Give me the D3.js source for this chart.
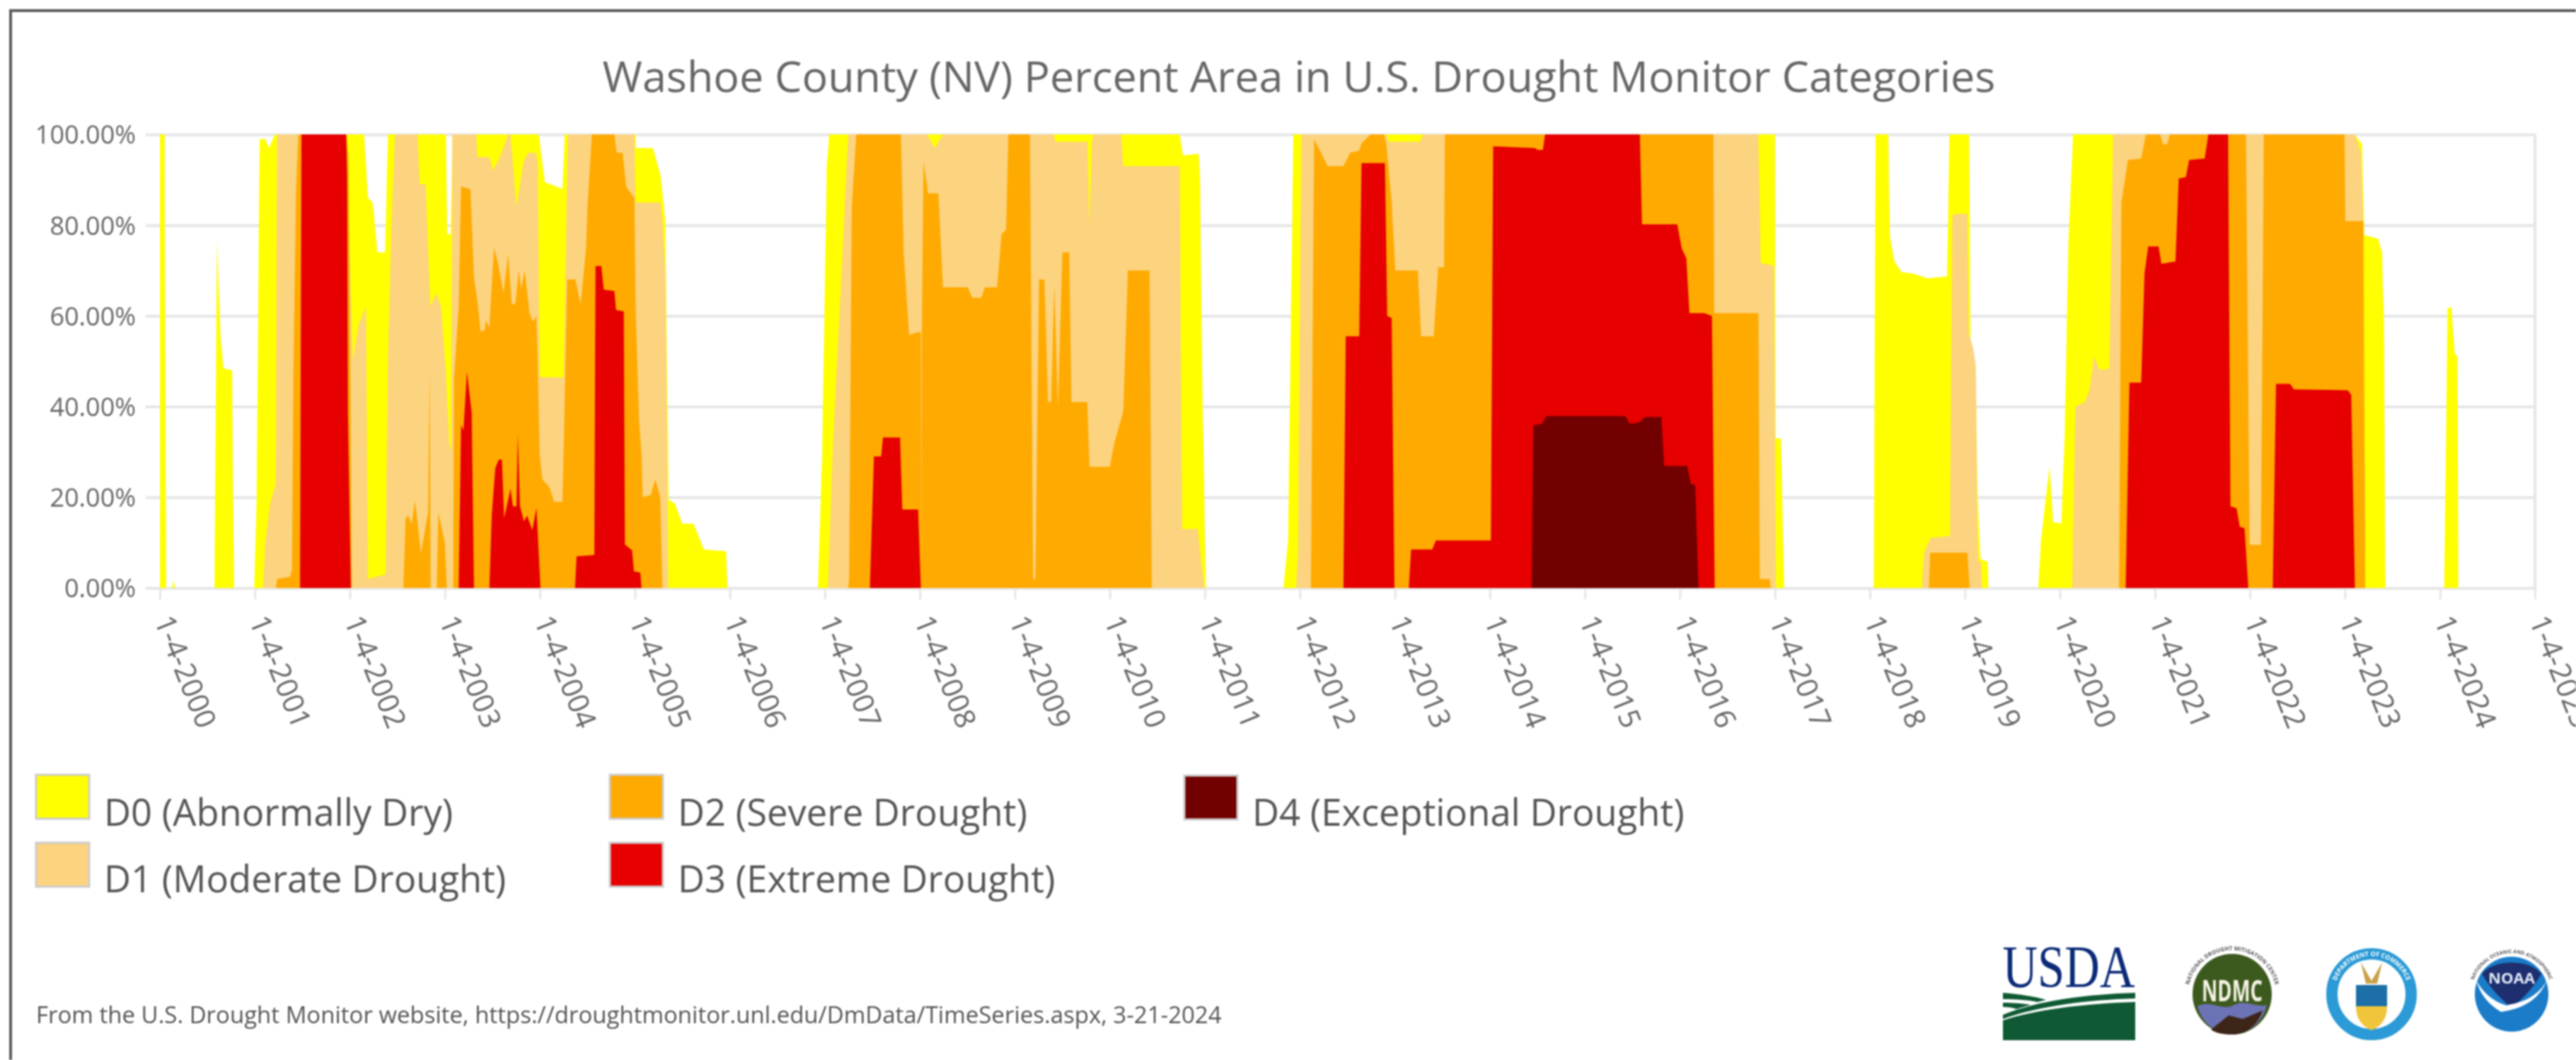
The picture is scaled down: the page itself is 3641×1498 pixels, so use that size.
<!DOCTYPE html>
<html>
<head>
<meta charset="utf-8">
<script src="https://cdnjs.cloudflare.com/ajax/libs/d3/7.8.5/d3.min.js"></script>
<style>
    html, body { margin: 0; padding: 0; background: #fff; }
    svg { display: block; filter: blur(0.8px); }
    text { font-family: "Open Sans", sans-serif; fill: #666; }
</style>
</head>
<body>
<div id="chart"></div>
<script>
// percent area, cumulative as the drought monitor draws it: [year, percent]
const d0 = [[2000,100],[2000.05,100],[2000.065,0],[2000.13,0],[2000.146,1.7],[2000.16,0],[2000.575,0],[2000.6,76.5],[2000.64,55],[2000.67,48.4],[2000.76,48],[2000.78,0],
    [2000.993,0],[2001.018,19],[2001.05,99],[2001.11,99],[2001.147,97],[2001.21,100],[2002.15,100],[2002.19,86],[2002.24,85],[2002.29,74],[2002.37,74],[2002.4,100],
    [2003.01,100],[2003.025,78],[2003.06,78],[2003.08,100],[2003.989,100],[2004.051,89.5],[2004.237,88],[2004.262,100],[2005.007,100],[2005.01,97],[2005.19,97],[2005.27,91],[2005.32,81],[2005.355,19.5],[2005.42,18.6],[2005.5,14.2],[2005.617,14.2],[2005.726,8.5],[2005.96,8.1],[2005.975,0],
    [2006.927,0],[2006.97,28.8],[2007.02,93],[2007.045,100],[2010.735,100],[2010.769,95.4],[2010.935,95.7],[2010.949,90],[2010.972,46],[2011.01,0],
    [2011.827,0],[2011.875,10.5],[2011.931,100],[2017.002,100],[2017.007,33],[2017.064,33],[2017.097,0],
    [2018.04,0],[2018.06,100],[2018.194,100],[2018.21,77.5],[2018.258,72],[2018.33,69.7],[2018.456,69.3],[2018.605,68.3],[2018.812,68.7],[2018.837,100],[2019.045,100],[2019.06,52],[2019.114,47],[2019.134,20],[2019.164,6.4],[2019.238,5.8],[2019.248,0],
    [2019.772,0],[2019.8,10.5],[2019.89,26.7],[2019.93,14.5],[2020.014,14.2],[2020.05,33.5],[2020.088,75.4],[2020.138,100],[2023.105,100],[2023.18,97.8],[2023.204,77.8],[2023.35,77],[2023.39,74],[2023.41,59],[2023.426,0],
    [2024.045,0],[2024.08,61.6],[2024.12,62],[2024.154,51.8],[2024.184,51],[2024.193,0]];

const d1 = [[2001.085,0],[2001.11,10],[2001.16,18.6],[2001.22,23],[2001.234,100],[2001.966,100],[2002.03,50],[2002.09,58],[2002.17,62],[2002.19,2],[2002.376,3],[2002.4,49],[2002.438,81],[2002.475,100],[2002.711,100],[2002.736,89],[2002.798,89],[2002.847,62],[2002.909,65],[2002.959,62],[2003.009,48],[2003.046,32],[2003.065,30],[2003.08,100],
    [2003.331,100],[2003.344,95],[2003.468,95],[2003.505,92],[2003.58,95],[2003.667,100],[2003.691,100],[2003.753,84],[2003.828,94],[2003.877,96],[2003.952,96],[2003.977,94],[2003.997,46.5],[2004.25,46.4],[2004.262,60],[2004.295,100],[2004.995,100],[2005.007,85],[2005.218,85],[2005.27,85],[2005.29,81],[2005.32,70],[2005.34,30],[2005.35,0],
    [2007.03,0],[2007.046,8],[2007.079,29],[2007.126,49],[2007.174,69],[2007.221,90],[2007.245,100],[2008.076,100],[2008.157,97],[2008.242,100],[2009.405,100],[2009.43,98.4],[2009.762,98.4],[2009.785,80],[2009.81,98.4],[2009.83,100],[2010.118,100],[2010.14,93],[2010.735,93],[2010.76,13],[2010.925,13],[2010.96,6],[2010.996,0],
    [2011.96,0],[2011.98,8],[2012.016,100],[2012.909,100],[2012.93,98.4],[2013.265,98.4],[2013.298,100],[2016.826,100],[2016.85,71.7],[2016.99,71],[2017,40],[2017.01,0],
    [2018.545,0],[2018.57,7.8],[2018.64,11],[2018.842,11.5],[2018.867,82],[2018.9,82.5],[2019.025,82.5],[2019.04,56],[2019.085,53],[2019.114,49],[2019.13,15],[2019.14,5.8],[2019.17,5.8],[2019.18,0],
    [2020.128,0],[2020.163,40],[2020.26,41],[2020.31,43.6],[2020.36,51],[2020.42,48],[2020.52,48.4],[2020.56,100],[2023.105,100],[2023.169,96],[2023.194,80],[2023.214,0]];

const d2 = [[2001.221,0],[2001.234,2],[2001.37,2.5],[2001.39,4],[2001.407,49],[2001.432,87],[2001.457,100],[2001.966,100],[2001.985,95],[2002,60],[2002.01,30],[2002.02,0],
    [2002.562,0],[2002.587,15.4],[2002.617,16],[2002.649,14],[2002.686,19.3],[2002.748,7.6],[2002.823,16.7],[2002.84,48],[2002.85,0],[2002.915,0],[2002.93,16.7],[2003,10],[2003.02,0],
    [2003.088,0],[2003.095,46],[2003.145,62],[2003.17,88.5],[2003.269,88],[2003.306,68.4],[2003.344,63],[2003.376,56.5],[2003.418,56.8],[2003.43,59],[2003.468,57.5],[2003.517,75],[2003.555,72],[2003.617,65],[2003.666,73.6],[2003.704,62.6],[2003.741,62.6],[2003.778,70],[2003.803,66],[2003.84,70],[2003.89,60.7],[2003.927,58.7],[2003.964,60],[2003.977,50],[2003.997,29.6],[2004.026,24],[2004.101,22.2],[2004.15,19],[2004.237,19],[2004.255,35],[2004.287,68],[2004.374,68],[2004.429,62.6],[2004.486,75],[2004.503,85],[2004.548,100],[2004.784,100],[2004.808,96],[2004.87,96],[2004.908,88.5],[2004.995,86],[2005.007,62],[2005.044,37],[2005.069,29.6],[2005.082,20],[2005.168,20.5],[2005.214,24],[2005.267,20],[2005.29,0],
    [2007.245,0],[2007.255,2],[2007.283,84],[2007.33,100],[2007.8,100],[2007.829,74],[2007.886,55.8],[2008,56.5],[2008.01,56],[2008.015,2],[2008.02,56],[2008.038,94],[2008.086,87],[2008.195,87],[2008.242,66.3],[2008.503,66.3],[2008.551,64],[2008.646,64],[2008.684,66.3],[2008.812,66.3],[2008.859,78],[2008.907,79],[2008.931,100],[2009.158,100],[2009.192,2],[2009.215,2],[2009.254,68],[2009.31,68],[2009.349,41],[2009.382,41],[2009.415,67],[2009.453,39.6],[2009.5,74],[2009.572,74],[2009.595,41],[2009.762,41],[2009.785,26.7],[2009.999,26.7],[2010.047,32],[2010.141,39],[2010.189,70],[2010.417,70],[2010.44,0],
    [2012.116,0],[2012.149,99],[2012.292,93],[2012.458,93],[2012.529,96],[2012.624,96.4],[2012.648,98],[2012.743,100],[2012.885,100],[2012.909,98],[2012.966,85],[2013.004,70],[2013.241,70],[2013.275,55.5],[2013.408,55.5],[2013.455,70.7],[2013.517,70.7],[2013.526,100],[2016.352,100],[2016.361,60.6],[2016.826,60.6],[2016.84,2],[2016.945,2],[2016.955,0],
    [2018.62,0],[2018.634,7.8],[2019.025,7.8],[2019.05,0],
    [2020.622,0],[2020.647,85],[2020.716,94.4],[2020.855,94.7],[2020.905,100],[2021.053,100],[2021.087,97.8],[2021.127,97.8],[2021.157,100],[2021.958,100],[2021.997,9.5],[2022.116,9.5],[2022.146,100],[2022.996,100],[2023.004,80.9],[2023.194,80.9],[2023.214,0]];

const d3Cat = [[2001.475,0],[2001.49,100],[2001.961,100],[2001.971,90],[2001.979,39],[2002.01,0],
    [2003.145,0],[2003.17,36],[2003.195,34.8],[2003.232,47.7],[2003.282,38.7],[2003.306,0],
    [2003.468,0],[2003.493,16],[2003.53,26.4],[2003.567,28.3],[2003.6,28.3],[2003.624,15.4],[2003.691,21.9],[2003.716,18],[2003.753,18],[2003.768,34],[2003.79,18],[2003.833,14.7],[2003.865,16],[2003.92,12.8],[2003.964,17.7],[2004.006,0],
    [2004.369,0],[2004.386,7],[2004.573,7.3],[2004.585,71],[2004.647,71],[2004.672,65.8],[2004.784,65.5],[2004.801,61.3],[2004.883,61],[2004.895,9.6],[2004.97,8.3],[2004.99,3.7],[2005.057,3.4],[2005.069,0],
    [2007.473,0],[2007.516,29],[2007.592,29],[2007.611,33.2],[2007.791,33.2],[2007.815,17.3],[2007.981,17.3],[2008.01,0],
    [2012.458,0],[2012.482,55.5],[2012.624,55.5],[2012.648,93.7],[2012.895,93.7],[2012.919,60],[2012.966,59.5],[2012.995,0],
    [2013.146,0],[2013.17,8.5],[2013.393,8.5],[2013.431,10.5],[2014.01,10.5],[2014.034,97.4],[2014.476,97],[2014.5,96.6],[2014.557,96.6],[2014.58,100],[2015.578,100],[2015.601,80.2],[2015.972,80.2],[2016.02,74.8],[2016.067,72.7],[2016.1,60.6],[2016.257,60.6],[2016.337,60],[2016.366,0],
    [2020.692,0],[2020.731,45.3],[2020.855,45.3],[2020.89,69.4],[2020.929,75.3],[2021.038,75.3],[2021.068,71.5],[2021.216,72],[2021.25,90.3],[2021.325,90.6],[2021.36,94.4],[2021.523,94.7],[2021.562,100],[2021.77,100],[2021.795,18],[2021.859,17.6],[2021.893,13.5],[2021.943,13.2],[2021.983,0],
    [2022.24,0],[2022.274,45],[2022.423,45],[2022.462,43.8],[2023.03,43.6],[2023.066,42.6],[2023.105,0]];

const d4 = [[2014.438,0],[2014.457,35.9],[2014.547,36.2],[2014.595,37.9],[2015.426,37.9],[2015.473,36.2],[2015.568,36.5],[2015.64,37.7],[2015.805,37.7],[2015.834,26.9],[2016.076,26.9],[2016.114,23],[2016.161,22.7],[2016.195,0]];

const seriesData = [d0, d1, d2, d3Cat, d4];
const seriesNames = ["D0 (Abnormally Dry)", "D1 (Moderate Drought)", "D2 (Severe Drought)", "D3 (Extreme Drought)", "D4 (Exceptional Drought)"];
const seriesColors = ["#ffff00", "#fcd37f", "#ffaa00", "#e60000", "#730000"];
const tickYears = d3.range(2000, 2026);
const percentTicks = [0, 20, 40, 60, 80, 100];

const titleText = "Washoe County (NV) Percent Area in U.S. Drought Monitor Categories";
const sourceText = "From the U.S. Drought Monitor website, https://droughtmonitor.unl.edu/DmData/TimeSeries.aspx, 3-21-2024";

const width = 3641, height = 1498;
const margin = {top: 190, left: 226, right: 58, bottom: 667};

let svg = d3.select("#chart").append("svg")
    .attr("width", width)
    .attr("height", height);

svg.append("rect").attr("width", width).attr("height", height).attr("fill", "#fff");

// frame of the screenshot, top and left only
svg.append("path")
    .attr("d", `M15,${height} V15 H${width}`)
    .attr("fill", "none")
    .attr("stroke", "#5a5a5a")
    .attr("stroke-width", 4);

svg.append("text")
    .text(titleText)
    .attr("x", 1836)
    .attr("y", 130)
    .attr("text-anchor", "middle")
    .style("font-size", "61px");

let plotW = width - margin.left - margin.right;
let plotH = height - margin.top - margin.bottom;

let x = d3.scaleLinear().domain([2000, 2025]).range([0, plotW]);
let y = d3.scaleLinear().domain([0, 100]).range([plotH, 0]);

let plot = svg.append("g").attr("transform", `translate(${margin.left}, ${margin.top})`);

// y axis + gridlines
let yAxis = d3.axisLeft(y)
    .tickValues(percentTicks)
    .tickFormat(d => d.toFixed(2) + "%");

let yGroup = plot.append("g").call(yAxis);
yGroup.select(".domain").remove();
yGroup.selectAll("line")
    .attr("x1", -20)
    .attr("x2", plotW)
    .attr("stroke", "#e6e6e6")
    .attr("stroke-width", 4);
yGroup.selectAll("text")
    .attr("x", -34)
    .attr("dy", "0.36em")
    .style("font-size", "36px");

// x axis
let xAxis = d3.axisBottom(x)
    .tickValues(tickYears)
    .tickSize(16)
    .tickFormat(d => "1-4-" + d);

let xGroup = plot.append("g")
    .attr("transform", `translate(0, ${plotH})`)
    .call(xAxis);
xGroup.select(".domain").remove();
xGroup.selectAll("line")
    .attr("stroke", "#e6e6e6")
    .attr("stroke-width", 3);
xGroup.selectAll("text")
    .attr("x", 0)
    .attr("y", 0)
    .attr("dy", 0)
    .attr("text-anchor", "start")
    .attr("transform", "translate(-9, 46) rotate(68)")
    .style("font-size", "41px");

// right border of the plot
plot.append("line")
    .attr("x1", x(2025)).attr("x2", x(2025))
    .attr("y1", y(100)).attr("y2", y(0))
    .attr("stroke", "#e6e6e6")
    .attr("stroke-width", 4);

let area = d3.area()
    .x(d => x(d[0]))
    .y0(y(0))
    .y1(d => y(d[1]));

// D0 first, every worse category painted over it
plot.selectAll(".cat")
    .data(seriesData)
    .enter().append("path")
    .attr("class", "cat")
    .attr("fill", (d, i) => seriesColors[i])
    .attr("d", area);

// legend, two columns and a single D4 one
const legendX = [51, 51, 862, 862, 1674];
const legendY = [1095, 1191, 1095, 1191, 1096];
const legendBase = [1167, 1261, 1167, 1261, 1167];
let legend = svg.append("g");
seriesNames.forEach(function(name, i) {
    legend.append("rect")
        .attr("x", legendX[i])
        .attr("y", legendY[i])
        .attr("width", 75)
        .attr("height", 62)
        .attr("fill", seriesColors[i])
        .attr("stroke", "#ccc")
        .attr("stroke-width", 3);
    legend.append("text")
        .text(name)
        .attr("x", legendX[i] + 96)
        .attr("y", legendBase[i])
        .style("font-size", "52.5px")
        .style("fill", "#555");
});

svg.append("text")
    .text(sourceText)
    .attr("x", 51)
    .attr("y", 1446)
    .style("font-size", "33px")
    .style("fill", "#555");

// logos
function sealText(g, id, cx, cy, rx, ry, txt, size, color) {
    g.append("path")
        .attr("id", id)
        .attr("fill", "none")
        .attr("d", `M${cx - rx},${cy} A${rx},${ry} 0 1 1 ${cx + rx},${cy}`);
    g.append("text")
        .style("font-size", size + "px")
        .style("font-weight", "700")
        .style("fill", color)
        .attr("text-anchor", "middle")
        .append("textPath")
        .attr("href", "#" + id)
        .attr("startOffset", "50%")
        .text(txt);
}

let logos = svg.append("g");

// USDA
logos.append("text").text("USDA")
    .attr("x", 2924).attr("y", 1395)
    .attr("text-anchor", "middle")
    .attr("textLength", 187)
    .attr("lengthAdjust", "spacingAndGlyphs")
    .style("font-family", "'Liberation Serif', serif")
    .style("font-size", "84px")
    .style("fill", "#0b2a78");
logos.append("path").attr("fill", "#0f5a34")
    .attr("d", "M2831,1442 C2880,1426 2950,1418 3018,1416 V1470 H2831 Z");
logos.append("path").attr("fill", "#0f5a34")
    .attr("d", "M2831,1434 C2880,1414 2950,1405 3018,1403 V1411 C2950,1413 2880,1422 2831,1440 Z");
logos.append("path").attr("fill", "#0f5a34")
    .attr("d", "M2831,1403 C2855,1405 2875,1408 2892,1413 L2880,1416 C2865,1413 2850,1412 2831,1412 Z");
logos.append("path").attr("fill", "#0f5a34")
    .attr("d", "M2831,1417 C2845,1417 2860,1418 2870,1420 L2850,1426 C2845,1424 2838,1423 2831,1423 Z");

// NDMC
logos.append("ellipse").attr("cx", 3155).attr("cy", 1405).attr("rx", 56).attr("ry", 57).attr("fill", "#3d5a1e");
logos.append("path").attr("fill", "#6b72b5")
    .attr("d", "M3106,1422 C3125,1412 3140,1430 3158,1420 C3175,1412 3190,1425 3204,1420 C3198,1445 3180,1460 3155,1462 C3130,1460 3112,1445 3106,1422 Z");
logos.append("path").attr("fill", "#3d2518")
    .attr("d", "M3125,1455 L3150,1435 L3170,1440 L3198,1428 C3192,1448 3175,1462 3155,1462 C3142,1462 3132,1460 3125,1455 Z");
logos.append("text").text("NDMC")
    .attr("x", 3155).attr("y", 1415)
    .attr("text-anchor", "middle")
    .attr("textLength", 86)
    .attr("lengthAdjust", "spacingAndGlyphs")
    .style("font-size", "42px").style("font-weight", "700").style("fill", "#f4f2e4");
sealText(logos, "ndmcTop", 3155, 1405, 62, 62, "NATIONAL DROUGHT MITIGATION CENTER", 8, "#555");

// Department of Commerce
logos.append("ellipse").attr("cx", 3352).attr("cy", 1405).attr("rx", 56).attr("ry", 57)
    .attr("fill", "#fff").attr("stroke", "#2b9ad6").attr("stroke-width", 16);
logos.append("path").attr("fill", "#1d6fa8")
    .attr("d", "M3330,1392 H3374 V1424 H3330 Z");
logos.append("path").attr("fill", "#f0c53c")
    .attr("d", "M3330,1422 H3374 C3374,1440 3366,1450 3352,1456 C3338,1450 3330,1440 3330,1422 Z");
logos.append("path").attr("fill", "#c9a04a")
    .attr("d", "M3337,1360 L3352,1386 L3367,1360 L3360,1390 H3344 Z");
sealText(logos, "docTop", 3352, 1405, 53, 54, "DEPARTMENT OF COMMERCE", 9, "#fff");

// NOAA
logos.append("ellipse").attr("cx", 3550).attr("cy", 1405).attr("rx", 52).attr("ry", 53).attr("fill", "#1b7cc9");
logos.append("path").attr("fill", "#1d2f6f")
    .attr("d", "M3508,1376 C3525,1355 3575,1355 3592,1376 C3582,1395 3565,1412 3550,1424 C3535,1412 3518,1395 3508,1376 Z");
logos.append("path").attr("fill", "#fff")
    .attr("d", "M3600,1385 C3590,1410 3570,1425 3535,1430 L3545,1420 C3570,1416 3590,1405 3600,1385 Z");
logos.append("path").attr("fill", "#fff")
    .attr("d", "M3500,1385 C3510,1405 3530,1420 3550,1422 L3535,1430 C3518,1420 3505,1405 3500,1385 Z");
logos.append("text").text("NOAA")
    .attr("x", 3550).attr("y", 1390)
    .attr("text-anchor", "middle")
    .style("font-size", "22px").style("font-weight", "700").style("fill", "#dfe6f5");
sealText(logos, "noaaTop", 3550, 1405, 57, 58, "NATIONAL OCEANIC AND ATMOSPHERIC", 7, "#555");
</script>
</body>
</html>
